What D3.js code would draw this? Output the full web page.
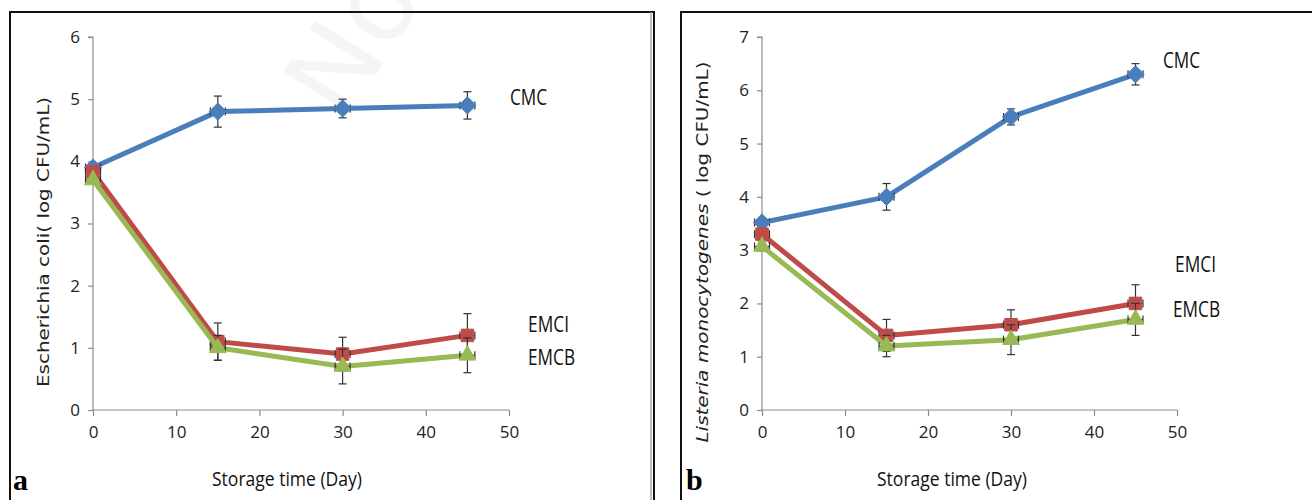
<!DOCTYPE html>
<html>
<head>
<meta charset="utf-8">
<script src="https://cdn.jsdelivr.net/npm/d3@7"></script>
<style>
  html, body { margin: 0; padding: 0; background: #fff; }
  svg { display: block; }
</style>
</head>
<body>
<svg id="chart" width="1312" height="500"></svg>
<script>
// ---------- data ----------
const days = [0, 15, 30, 45];
const seriesNames = ["CMC", "EMCI", "EMCB"];

// Panel a: Escherichia coli
const ecoliCMC  = [3.9, 4.8, 4.85, 4.9];
const ecoliEMCI = [3.83, 1.1, 0.9, 1.2];
const ecoliEMCB = [3.7, 1.0, 0.7, 0.88];
const ecoliErrCMC  = [0.05, 0.25, 0.15, 0.22];
const ecoliErrEMCI = [0.06, 0.3, 0.27, 0.35];
const ecoliErrEMCB = [0.05, 0.2, 0.28, 0.28];

// Panel b: Listeria monocytogenes
const listCMC  = [3.52, 4.0, 5.5, 6.3];
const listEMCI = [3.3, 1.4, 1.6, 2.0];
const listEMCB = [3.07, 1.2, 1.32, 1.7];
const listErrCMC  = [0.05, 0.25, 0.15, 0.2];
const listErrEMCI = [0.1, 0.3, 0.28, 0.35];
const listErrEMCB = [0.08, 0.2, 0.28, 0.3];

const dayErr = [0.9, 0.9, 0.9, 0.9];

const xTicks = [0, 10, 20, 30, 40, 50];
const yTicksA = [0, 1, 2, 3, 4, 5, 6];
const yTicksB = [0, 1, 2, 3, 4, 5, 6, 7];

// ---------- styles ----------
const colors = { CMC: "#4a7ebb", EMCI: "#be4b48", EMCB: "#98b954" };
const markers = { CMC: d3.symbolDiamond2, EMCI: d3.symbolSquare2, EMCB: d3.symbolTriangle2 };
const labelFont = '"Open Sans", "Liberation Sans", sans-serif';
const labelWidths = { CMC: 37, EMCI: 41, EMCB: 47 };

const svg = d3.select("#chart");

// faint watermark
svg.append("text")
  .attr("transform", "translate(385,60) rotate(-58)")
  .attr("text-anchor", "middle")
  .attr("font-family", "DejaVu Sans, sans-serif")
  .attr("font-size", 110)
  .attr("fill", "#f5f5f5")
  .text("No");

function panel(cfg) {
  const x = d3.scaleLinear().domain([0, 50]).range(cfg.xRange);
  const y = d3.scaleLinear().domain([0, cfg.yMax]).range([410, 37]);
  const g = svg.append("g");

  // frame
  g.append("rect")
    .attr("x", cfg.frame[0]).attr("y", 12)
    .attr("width", cfg.frame[1]).attr("height", 520)
    .attr("fill", "none").attr("stroke", "#111").attr("stroke-width", 2);
  if (cfg.shadow) {
    g.append("line").attr("x1", cfg.shadow).attr("x2", cfg.shadow)
      .attr("y1", 12).attr("y2", 500).attr("stroke", "#aaa").attr("stroke-width", 1.5);
  }

  // axes
  const yAxis = d3.axisLeft(y).tickValues(cfg.yTicks).tickSize(5).tickPadding(8).tickFormat(d3.format("d"));
  const xAxis = d3.axisBottom(x).tickValues(xTicks).tickSize(6).tickPadding(10).tickFormat(d3.format("d"));
  const ya = g.append("g").attr("transform", `translate(${cfg.xRange[0]},0)`).call(yAxis);
  const xa = g.append("g").attr("transform", `translate(0,${y(0)})`).call(xAxis);
  [ya, xa].forEach(a => {
    a.select(".domain").attr("stroke", "#8c8c8c").attr("stroke-width", 1.2);
    a.selectAll(".tick line").attr("stroke", "#8c8c8c").attr("stroke-width", 1.2);
    a.selectAll(".tick text").attr("font-size", 17).attr("fill", "#222")
      .attr("font-family", labelFont);
  });
  ya.select(".domain").attr("d", `M-5,${y(cfg.yMax)}H0V${y(0)}`);
  xa.select(".domain").attr("d", `M${x(0)},0H${x(50)}`);

  const lineGen = d3.line().x((d, i) => x(days[i])).y(d => y(d));

  cfg.series.forEach(s => {
    const col = colors[s.name];
    g.append("path").datum(s.values)
      .attr("d", lineGen)
      .attr("fill", "none").attr("stroke", col)
      .attr("stroke-width", 5).attr("stroke-linejoin", "round");
    const eb = g.append("g").attr("stroke", "#333").attr("stroke-width", 1.2).attr("fill", "none");
    s.values.forEach((v, i) => {
      const cx = x(days[i]), cy = y(v);
      const e = s.err[i];
      const y1 = y(v + e), y2 = y(v - e);
      eb.append("line").attr("x1", cx).attr("x2", cx).attr("y1", y1).attr("y2", y2);
      eb.append("line").attr("x1", cx - 4).attr("x2", cx + 4).attr("y1", y1).attr("y2", y1);
      eb.append("line").attr("x1", cx - 4).attr("x2", cx + 4).attr("y1", y2).attr("y2", y2);
      const xl = x(days[i] - dayErr[i]), xr = x(days[i] + dayErr[i]);
      eb.append("line").attr("x1", xl).attr("x2", xr).attr("y1", cy).attr("y2", cy);
      eb.append("line").attr("x1", xl).attr("x2", xl).attr("y1", cy - 4).attr("y2", cy + 4);
      eb.append("line").attr("x1", xr).attr("x2", xr).attr("y1", cy - 4).attr("y2", cy + 4);
    });
    const sym = d3.symbol().type(markers[s.name]).size(s.name === "CMC" ? 190 : 200);
    g.selectAll(null).data(s.values).enter().append("path")
      .attr("d", sym)
      .attr("transform", (d, i) => `translate(${x(days[i])},${y(d)})`)
      .attr("fill", col).attr("stroke", col).attr("stroke-width", 1);
  });

  // series labels
  cfg.labels.forEach(l => {
    g.append("text").attr("x", l.x).attr("y", l.y)
      .attr("font-family", labelFont).attr("font-size", 21).attr("fill", "#111")
      .attr("textLength", labelWidths[l.name]).attr("lengthAdjust", "spacingAndGlyphs")
      .text(l.name);
  });

  // x title
  g.append("text").attr("x", cfg.xTitleX - 75).attr("y", 486)
    .attr("font-family", labelFont).attr("font-size", 20).attr("fill", "#111")
    .attr("textLength", 150).attr("lengthAdjust", "spacingAndGlyphs")
    .text("Storage time (Day)");

  // panel letter
  g.append("text").attr("x", cfg.letterX).attr("y", 490)
    .attr("font-family", "Liberation Serif, Times New Roman, serif")
    .attr("font-weight", "bold").attr("font-size", 30).attr("fill", "#000")
    .text(cfg.letter);

  return { g, x, y };
}

panel({
  frame: [10, 644], shadow: 651, xRange: [93, 509], yMax: 6, yTicks: yTicksA,
  series: [
    { name: "CMC", values: ecoliCMC, err: ecoliErrCMC },
    { name: "EMCI", values: ecoliEMCI, err: ecoliErrEMCI },
    { name: "EMCB", values: ecoliEMCB, err: ecoliErrEMCB }
  ],
  labels: [
    { name: "CMC", x: 510, y: 105 },
    { name: "EMCI", x: 528, y: 332 },
    { name: "EMCB", x: 528, y: 365 }
  ],
  xTitleX: 287, letter: "a", letterX: 13
});

panel({
  frame: [681, 660], xRange: [762, 1177], yMax: 7, yTicks: yTicksB,
  series: [
    { name: "CMC", values: listCMC, err: listErrCMC },
    { name: "EMCI", values: listEMCI, err: listErrEMCI },
    { name: "EMCB", values: listEMCB, err: listErrEMCB }
  ],
  labels: [
    { name: "CMC", x: 1163, y: 68 },
    { name: "EMCI", x: 1175, y: 272 },
    { name: "EMCB", x: 1173, y: 317 }
  ],
  xTitleX: 952, letter: "b", letterX: 686
});

// y titles
svg.append("text")
  .attr("transform", "translate(49,242) rotate(-90)")
  .attr("text-anchor", "middle")
  .attr("font-family", "DejaVu Sans, Verdana, sans-serif")
  .attr("font-size", 15.5).attr("fill", "#222")
  .attr("textLength", 290).attr("lengthAdjust", "spacingAndGlyphs")
  .text("Escherichia coli( log CFU/mL)");

const tb = svg.append("text")
  .attr("transform", "translate(708,252) rotate(-90)")
  .attr("text-anchor", "middle")
  .attr("font-family", "DejaVu Sans, Verdana, sans-serif")
  .attr("font-size", 16.5).attr("fill", "#222")
  .attr("textLength", 381).attr("lengthAdjust", "spacingAndGlyphs");
tb.append("tspan").attr("font-style", "italic").text("Listeria monocytogenes");
tb.append("tspan").text(" ( log CFU/mL)");
</script>
</body>
</html>
